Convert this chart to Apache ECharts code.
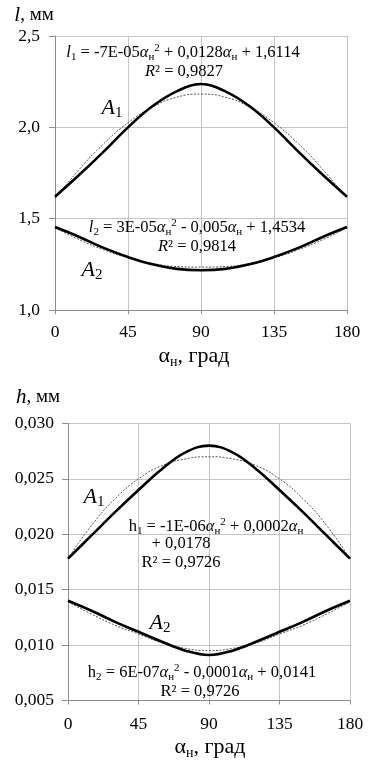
<!DOCTYPE html>
<html>
<head>
<meta charset="utf-8">
<script src="https://cdn.jsdelivr.net/npm/echarts@6/dist/echarts.min.js"></script>
<style>
html,body{margin:0;padding:0;background:#fff;}
#c{width:372px;height:763px;}
</style>
</head>
<body>
<div id="c"></div>
<script>
// angles (degrees)
const angles = [0, 15, 30, 45, 60, 75, 90, 105, 120, 135, 150, 165, 180];
const xTicks = [0, 45, 90, 135, 180];
// chart 1: l, mm
const l1Curve = [1.62, 1.74, 1.867, 2.0, 2.115, 2.197, 2.237, 2.197, 2.115, 2.0, 1.867, 1.74, 1.62];
const l1Trend = [1.61, 1.77, 1.91, 2.025, 2.11, 2.165, 2.182, 2.165, 2.11, 2.025, 1.91, 1.77, 1.61];
const l2Curve = [1.454, 1.40, 1.34, 1.29, 1.25, 1.225, 1.218, 1.225, 1.25, 1.29, 1.34, 1.40, 1.454];
const l2Trend = [1.45, 1.385, 1.33, 1.285, 1.255, 1.238, 1.235, 1.238, 1.255, 1.285, 1.33, 1.385, 1.45];
// chart 2: h, mm
const h1Curve = [0.0178, 0.0199, 0.0220, 0.0240, 0.0259, 0.0274, 0.0280, 0.0274, 0.0259, 0.0240, 0.0220, 0.0199, 0.0178];
const h1Trend = [0.0178, 0.0208, 0.0232, 0.0250, 0.0262, 0.0268, 0.0270, 0.0268, 0.0262, 0.0250, 0.0232, 0.0208, 0.0178];
const h2Curve = [0.0140, 0.0131, 0.0121, 0.0112, 0.0103, 0.0095, 0.0091, 0.0095, 0.0103, 0.0112, 0.0121, 0.0131, 0.0140];
const h2Trend = [0.0139, 0.0128, 0.0118, 0.0110, 0.0102, 0.0097, 0.0095, 0.0097, 0.0102, 0.0110, 0.0118, 0.0128, 0.0139];

const FF = '"Liberation Serif", "Times New Roman", serif';
const pairs = (ys) => angles.map((a, i) => [a, ys[i]]);

const rich = {
  i: {fontStyle: 'italic', fontFamily: FF, fontSize: 16.5, fill: '#000'},
  sub: {fontFamily: FF, fontSize: 11, verticalAlign: 'bottom', lineHeight: 9, fill: '#000'},
  sup: {fontFamily: FF, fontSize: 11, verticalAlign: 'top', lineHeight: 11, fill: '#000'},
  ai: {fontStyle: 'italic', fontFamily: FF, fontSize: 16.5, fill: '#000'},
  A: {fontStyle: 'italic', fontFamily: FF, fontSize: 22, fill: '#000', lineHeight: 26},
  Asub: {fontFamily: FF, fontSize: 15, verticalAlign: 'bottom', lineHeight: 15, fill: '#000'},
  big: {fontStyle: 'italic', fontFamily: FF, fontSize: 21, fill: '#000'},
  nm: {fontFamily: FF, fontSize: 19, fill: '#000'},
  ax: {fontFamily: FF, fontSize: 22, fill: '#000', lineHeight: 26},
  axs: {fontFamily: FF, fontSize: 14, verticalAlign: 'bottom', lineHeight: 14, fill: '#000'}
};

function txt(x, y, text, size, lh) {
  return {
    type: 'text', x: x, y: y, z: 100,
    style: {
      text: text, rich: rich, fontFamily: FF, fontSize: size || 16.5, fill: '#000',
      lineHeight: lh || 20, align: 'center', verticalAlign: 'middle'
    }
  };
}

const axisCommonX = (gi, margin) => ({
  type: 'value', gridIndex: gi, min: 0, max: 180, interval: 45,
  axisLine: {show: true, lineStyle: {color: '#8c8c8c', width: 1}},
  axisTick: {show: true, length: 4, lineStyle: {color: '#8c8c8c'}},
  axisLabel: {fontFamily: FF, fontSize: 17.5, color: '#000', margin: margin},
  splitLine: {show: true, lineStyle: {color: '#c4c4c4', width: 1}}
});

const chart = echarts.init(document.getElementById('c'), null, {renderer: 'canvas'});
const option = {
  backgroundColor: '#fff',
  animation: false,
  grid: [
    {left: 55, right: 25, top: 36, height: 274, containLabel: false},
    {left: 68, right: 22, top: 423.5, height: 277, containLabel: false}
  ],
  xAxis: [axisCommonX(0, 13), axisCommonX(1, 15)],
  yAxis: [
    {
      type: 'value', gridIndex: 0, min: 1.0, max: 2.5, interval: 0.5,
      axisLine: {show: true, lineStyle: {color: '#8c8c8c'}},
      axisTick: {show: true, length: 6, lineStyle: {color: '#8c8c8c'}},
      axisLabel: {fontFamily: FF, fontSize: 17.5, color: '#000', margin: 15,
        formatter: v => v.toFixed(1).replace('.', ',')},
      splitLine: {show: true, lineStyle: {color: '#c4c4c4'}}
    },
    {
      type: 'value', gridIndex: 1, min: 0.005, max: 0.030, interval: 0.005,
      axisLine: {show: true, lineStyle: {color: '#8c8c8c'}},
      axisTick: {show: true, length: 6, lineStyle: {color: '#8c8c8c'}},
      axisLabel: {fontFamily: FF, fontSize: 17.5, color: '#000', margin: 14,
        formatter: v => v.toFixed(3).replace('.', ',')},
      splitLine: {show: true, lineStyle: {color: '#c4c4c4'}}
    }
  ],
  series: [
    {name: 'l1 trend', type: 'line', xAxisIndex: 0, yAxisIndex: 0, data: pairs(l1Trend), smooth: 0.5, symbol: 'none',
      lineStyle: {color: '#555', width: 1, type: [2, 1.5]}},
    {name: 'l2 trend', type: 'line', xAxisIndex: 0, yAxisIndex: 0, data: pairs(l2Trend), smooth: 0.5, symbol: 'none',
      lineStyle: {color: '#555', width: 1, type: [2, 1.5]}},
    {name: 'A1', type: 'line', xAxisIndex: 0, yAxisIndex: 0, data: pairs(l1Curve), smooth: 0.4, symbol: 'none',
      lineStyle: {color: '#000', width: 2.6}},
    {name: 'A2', type: 'line', xAxisIndex: 0, yAxisIndex: 0, data: pairs(l2Curve), smooth: 0.4, symbol: 'none',
      lineStyle: {color: '#000', width: 2.6}},
    {name: 'h1 trend', type: 'line', xAxisIndex: 1, yAxisIndex: 1, data: pairs(h1Trend), smooth: 0.5, symbol: 'none',
      lineStyle: {color: '#555', width: 1, type: [2, 1.5]}},
    {name: 'h2 trend', type: 'line', xAxisIndex: 1, yAxisIndex: 1, data: pairs(h2Trend), smooth: 0.5, symbol: 'none',
      lineStyle: {color: '#555', width: 1, type: [2, 1.5]}},
    {name: 'A1h', type: 'line', xAxisIndex: 1, yAxisIndex: 1, data: pairs(h1Curve), smooth: 0.4, symbol: 'none',
      lineStyle: {color: '#000', width: 2.6}},
    {name: 'A2h', type: 'line', xAxisIndex: 1, yAxisIndex: 1, data: pairs(h2Curve), smooth: 0.4, symbol: 'none',
      lineStyle: {color: '#000', width: 2.6}}
  ],
  graphic: [
    // chart 1
    txt(34, 15, '{big|l}{nm|, мм}', 19, 24),
    txt(183, 53, '{i|l}{sub|1} = -7E-05{ai|α}{sub|н}{sup|2} + 0,0128{ai|α}{sub|н} + 1,6114', 16.5, 20),
    txt(184, 72, '{i|R}² = 0,9827', 16.5, 20),
    txt(112, 108, '{A|A}{Asub|1}', 22, 26),
    txt(197, 228, '{i|l}{sub|2} = 3E-05{ai|α}{sub|н}{sup|2} - 0,005{ai|α}{sub|н} + 1,4534', 16.5, 20),
    txt(197, 247, '{i|R}² = 0,9814', 16.5, 20),
    txt(92, 270, '{A|A}{Asub|2}', 22, 26),
    txt(194, 356, '{ax|α}{axs|н}{ax|, град}', 22, 26),
    // chart 2
    txt(38, 397, '{big|h}{nm|, мм}', 19, 24),
    txt(94, 497, '{A|A}{Asub|1}', 22, 26),
    txt(216, 527, 'h{sub|1} = -1E-06{ai|α}{sub|н}{sup|2} + 0,0002{ai|α}{sub|н}', 16.5, 20),
    txt(181, 544, '+ 0,0178', 16.5, 20),
    txt(181, 563, 'R² = 0,9726', 16.5, 20),
    txt(160, 623, '{A|A}{Asub|2}', 22, 26),
    txt(202, 673, 'h{sub|2} = 6E-07{ai|α}{sub|н}{sup|2} - 0,0001{ai|α}{sub|н} + 0,0141', 16.5, 20),
    txt(200, 692, 'R² = 0,9726', 16.5, 20),
    txt(210, 747, '{ax|α}{axs|н}{ax|, град}', 22, 26)
  ]
};
chart.setOption(option);
</script>
</body>
</html>
